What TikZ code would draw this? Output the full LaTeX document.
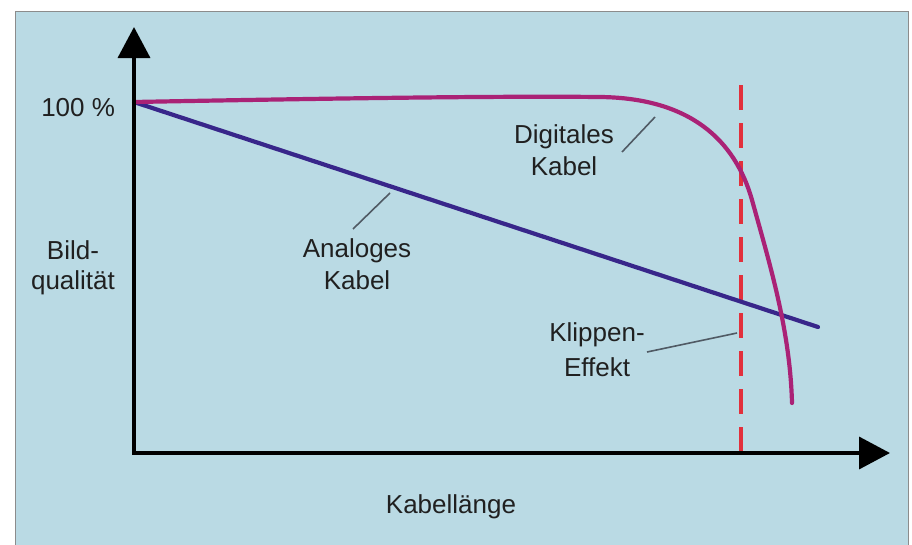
\documentclass[tikz,border=0pt]{standalone}
\usepackage{fontspec}
\setmainfont{Liberation Sans}
\usetikzlibrary{arrows.meta}
\definecolor{bgblue}{RGB}{186,218,228}
\definecolor{framegray}{RGB}{140,140,140}
\definecolor{digi}{RGB}{170,34,118}
\definecolor{ana}{RGB}{56,38,138}
\definecolor{clipred}{RGB}{226,48,60}
\definecolor{txt}{RGB}{32,32,32}
\definecolor{lead}{RGB}{80,90,100}
\tikzset{
  lbl/.style={inner sep=0pt, outer sep=0pt, text=txt, align=center,
    font=\fontsize{26}{32}\selectfont},
  axis/.style={line width=3.6pt, black, {Triangle[length=31pt,width=32pt]}-{Triangle[length=31pt,width=32pt]}},
  curve/.style={line width=4.2pt, line cap=round},
  leader/.style={line width=1.6pt, lead},
  clipline/.style={line width=3.2pt, draw=clipred, dash pattern=on 25pt off 13pt}
}
\begin{document}
\begin{tikzpicture}[x=1pt,y=-1pt]
\useasboundingbox (0,0) rectangle (912,544);
% background panel
\fill[bgblue] (15,11) rectangle (908,560);
\draw[framegray, line width=1pt] (15,560) -- (15,11) -- (908,11) -- (908,560);
% coordinates
\coordinate (ytop) at (134,27);
\coordinate (O) at (134,453);
\coordinate (xend) at (890,453);
\coordinate (S) at (134,102);
\coordinate (anaend) at (818,327);
\coordinate (cliptop) at (741,85);
\coordinate (clipbot) at (741,453);
% clipping line
\draw[clipline] (cliptop) -- (clipbot);
% analog line
\draw[curve, ana] (S) -- (anaend);
% digital curve
\draw[curve, digi] (S) .. controls (350,98) and (500,96) .. (600,97)
  .. controls (690,98) and (735,140) .. (752,200)
  .. controls (770,265) and (790,330) .. (792,403);
% axes
\draw[axis] (ytop) -- (O) -- (xend);
% labels
\node[lbl, anchor=north east] (hundert) at (115,98) {100 \%};
\node[lbl, anchor=north, font=\fontsize{26}{30}\selectfont] (bq) at (73,241) {Bild-\\qualität};
\node[lbl, anchor=north] (analog) at (357,239) {Analoges\\Kabel};
\node[lbl, anchor=north] (digital) at (564,125) {Digitales\\Kabel};
\node[lbl, anchor=north, font=\fontsize{26}{35}\selectfont] (klipp) at (597,323) {Klippen-\\Effekt};
\node[lbl, anchor=north] (kl) at (451,495) {Kabellänge};
% leaders
\coordinate (a1) at (353,229); \coordinate (a2) at (390,193);
\coordinate (d1) at (622,152); \coordinate (d2) at (655,117);
\coordinate (k1) at (647,352); \coordinate (k2) at (737,333);
\draw[leader] (a1) -- (a2);
\draw[leader] (d1) -- (d2);
\draw[leader] (k1) -- (k2);
\end{tikzpicture}
\end{document}
